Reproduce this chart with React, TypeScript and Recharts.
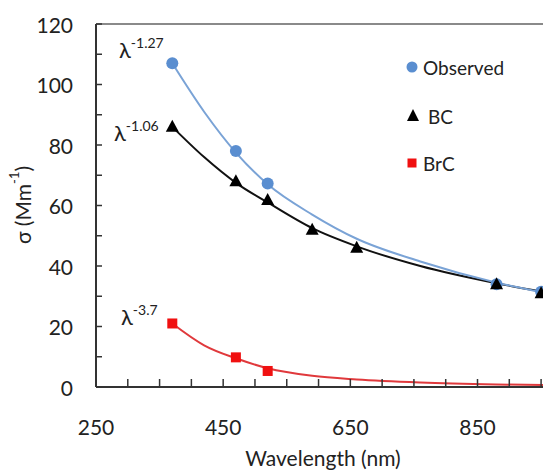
import { ComposedChart, Line, Scatter, XAxis, YAxis, ReferenceLine } from "recharts";

// measured absorption at each aethalometer wavelength (nm)
const observedWl = [370, 470, 520, 880, 950];
const observedVals = [107, 78, 67.3, 34, 31.5];
const bcWl = [370, 470, 520, 590, 660, 880, 950];
const bcVals = [86, 68, 61.8, 52, 46, 34, 31];
const brcWl = [370, 470, 520];
const brcVals = [21, 9.8, 5.3];

// power-law fit curves
const fitWl = [370, 420, 470, 520, 590, 660, 760, 880, 960];
const observedFit = [107, 91, 77.5, 67, 57, 49, 41.5, 34.5, 31];
const bcFit = [86, 76, 67.5, 61, 52.5, 46.5, 40, 34.3, 31.2];
const brcFit = [21, 13.8, 9.5, 6.2, 3.7, 2.5, 1.5, 0.85, 0.6];

const xTicks = [250, 300, 350, 400, 450, 500, 550, 600, 650, 700, 750, 800, 850, 900, 950];
const xLabels = [250, 450, 650, 850];
const yTicks = [0, 10, 20, 30, 40, 50, 60, 70, 80, 90, 100, 110, 120];
const yLabels = [0, 20, 40, 60, 80, 100, 120];

const FONT = "Lato, 'Open Sans', sans-serif";
const BLUE = "#5a8ed0";
const BLUE_LINE = "#7aa3d6";
const RED = "#f01010";
const RED_LINE = "#e0393c";
const AXIS = "#333";

const pts = (wl: number[], v: number[]) => wl.map((w, i) => ({ wl: w, v: v[i] }));

const XTick = (props: any) => {
  const { x, y, payload } = props;
  return (
    <g>
      <line x1={x} y1={y} x2={x} y2={y - 8} stroke={AXIS} strokeWidth={1.5} />
      {xLabels.includes(payload.value) && (
        <text x={x} y={y + 39} textAnchor="middle" dominantBaseline="central" fontSize={21} fill="#222" fontFamily={FONT}>
          {payload.value}
        </text>
      )}
    </g>
  );
};

const YTick = (props: any) => {
  const { x, y, payload } = props;
  return (
    <g>
      <line x1={x} y1={y} x2={x + 6} y2={y} stroke={AXIS} strokeWidth={1.5} />
      {yLabels.includes(payload.value) && (
        <text x={x - 23} y={y} textAnchor="end" dominantBaseline="central" fontSize={21} fill="#222" fontFamily={FONT}>
          {payload.value}
        </text>
      )}
    </g>
  );
};

const Dot = (p: any) => <circle cx={p.cx} cy={p.cy} r={6} fill={BLUE} />;
const Tri = (p: any) => (
  <polygon points={`${p.cx},${p.cy - 7} ${p.cx - 6.5},${p.cy + 5} ${p.cx + 6.5},${p.cy + 5}`} fill="#000" />
);
const Sq = (p: any) => <rect x={p.cx - 5} y={p.cy - 5} width={10} height={10} fill={RED} />;

const Power = ({ x, y, exp }: { x: number; y: number; exp: string }) => (
  <text x={x} y={y} fontFamily={FONT} fill="#222" fontSize={22}>
    λ
    <tspan fontSize={14} dy={-10}>
      {exp}
    </tspan>
  </text>
);

export default function App() {
  return (
    <div style={{ position: "absolute", left: 0, top: 0, width: 543, height: 470, background: "#fff" }}>
      <ComposedChart width={543} height={470} margin={{ top: 24, right: 0, bottom: 0, left: 0 }}>
        <XAxis
          dataKey="wl"
          type="number"
          domain={[250, 953]}
          allowDataOverflow
          ticks={xTicks}
          interval={0}
          height={83}
          tickSize={0}
          tickMargin={0}
          tickLine={false}
          tick={<XTick />}
          axisLine={{ stroke: AXIS, strokeWidth: 2 }}
        />
        <YAxis
          dataKey="v"
          type="number"
          domain={[0, 120]}
          ticks={yTicks}
          interval={0}
          width={96}
          tickSize={0}
          tickMargin={0}
          tickLine={false}
          tick={<YTick />}
          axisLine={{ stroke: AXIS, strokeWidth: 2 }}
        />
        <ReferenceLine y={120} stroke="#8a8a8a" strokeWidth={2} />
        <Line data={pts(fitWl, brcFit)} dataKey="v" type="monotone" stroke={RED_LINE} strokeWidth={2} dot={false} isAnimationActive={false} />
        <Line data={pts(fitWl, bcFit)} dataKey="v" type="monotone" stroke="#111" strokeWidth={2} dot={false} isAnimationActive={false} />
        <Line data={pts(fitWl, observedFit)} dataKey="v" type="monotone" stroke={BLUE_LINE} strokeWidth={2} dot={false} isAnimationActive={false} />
        <Scatter data={pts(observedWl, observedVals)} dataKey="v" shape={<Dot />} isAnimationActive={false} />
        <Scatter data={pts(bcWl, bcVals)} dataKey="v" shape={<Tri />} isAnimationActive={false} />
        <Scatter data={pts(brcWl, brcVals)} dataKey="v" shape={<Sq />} isAnimationActive={false} />
      </ComposedChart>
      <svg width={543} height={470} style={{ position: "absolute", left: 0, top: 0, pointerEvents: "none" }}>
        <Power x={119} y={58} exp="-1.27" />
        <Power x={114} y={141} exp="-1.06" />
        <Power x={121} y={325} exp="-3.7" />

        <text
          transform="translate(22,205) rotate(-90)"
          textAnchor="middle"
          dominantBaseline="central"
          fontFamily={FONT}
          fontSize={21}
          fill="#222"
        >
          σ (Mm
          <tspan fontSize={13} dy={-8}>
            -1
          </tspan>
          <tspan dy={8}>)</tspan>
        </text>
        <text x={323} y={457} textAnchor="middle" dominantBaseline="central" fontFamily={FONT} fontSize={21} fill="#222">
          Wavelength (nm)
        </text>

        <circle cx={412} cy={67} r={5.5} fill={BLUE} />
        <text x={423} y={67} dominantBaseline="central" fontFamily={FONT} fontSize={19} fill="#222">
          Observed
        </text>
        <polygon points="413,109 407,121 419,121" fill="#000" />
        <text x={428} y={116} dominantBaseline="central" fontFamily={FONT} fontSize={19} fill="#222">
          BC
        </text>
        <rect x={407.5} y={158.5} width={9} height={9} fill={RED} />
        <text x={423} y={163} dominantBaseline="central" fontFamily={FONT} fontSize={19} fill="#222">
          BrC
        </text>
      </svg>
    </div>
  );
}
